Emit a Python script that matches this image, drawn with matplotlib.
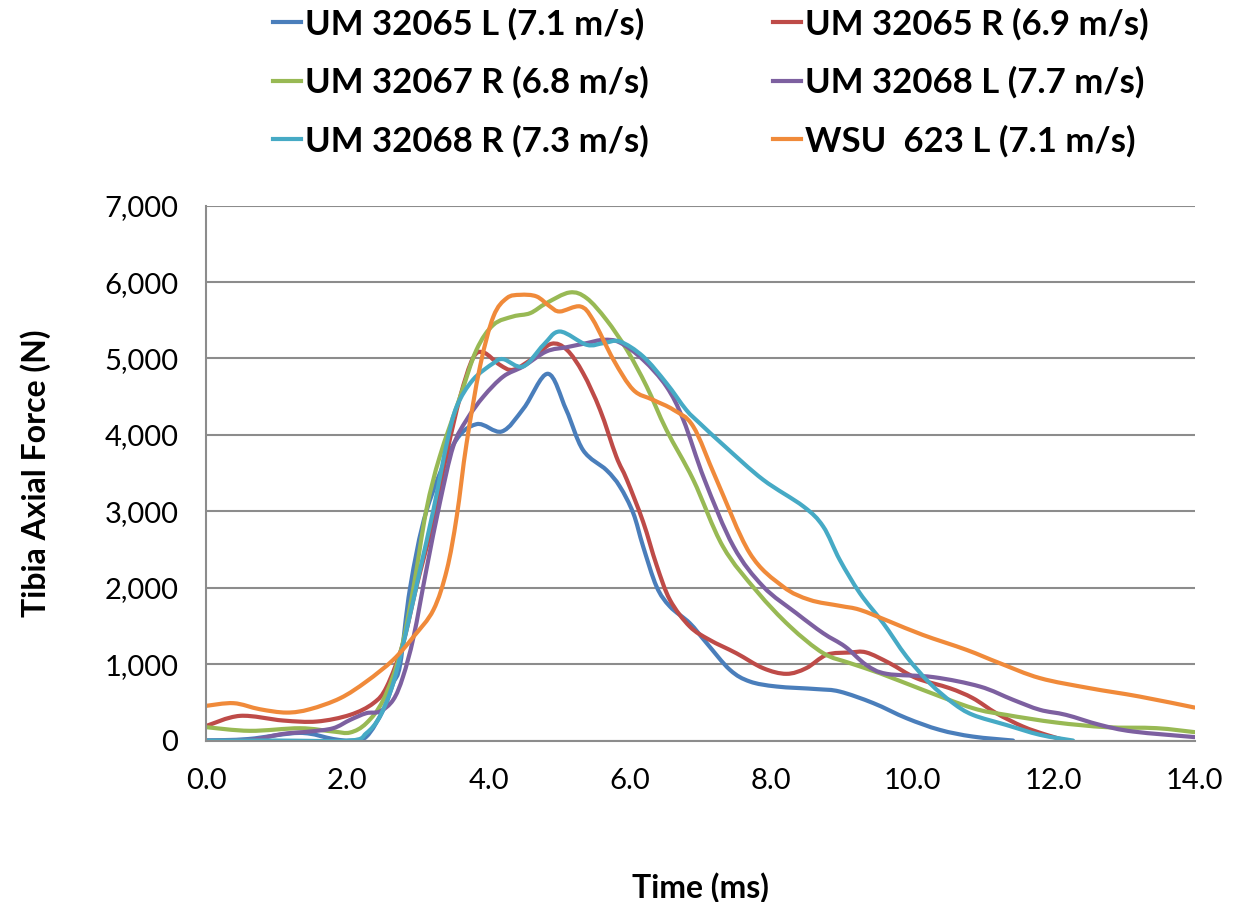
import matplotlib
matplotlib.use('Agg')
import matplotlib.pyplot as plt
from matplotlib.path import Path
from matplotlib.patches import PathPatch
from matplotlib.lines import Line2D
from matplotlib.ticker import FuncFormatter

plt.rcParams['font.family'] = ['Lato', 'DejaVu Sans']

# Time (ms) / tibia axial force (N)
t_um65l = [0, 0.6, 1.33, 1.8, 2.04, 2.27, 2.51, 2.65, 2.75, 2.89, 3.12, 3.5, 3.83, 4.19, 4.5, 4.84,
           5.1, 5.34, 5.67, 5.86, 6.05, 6.19, 6.38, 6.57, 6.85, 7.09, 7.42, 7.7, 8.08, 8.65, 8.975,
           9.45, 9.92, 10.39, 10.86, 11.43]
f_um65l = [0, 20, 100, 20, 0, 50, 400, 750, 1000, 2000, 3000, 3870, 4140, 4045, 4350, 4800,
           4330, 3800, 3540, 3325, 2977, 2540, 2016, 1754, 1537, 1275, 925, 773, 707, 673, 641,
           490, 293, 140, 52, 0]

t_um65r = [0, 0.48, 1.09, 1.57, 2.04, 2.37, 2.56, 2.79, 2.98, 3.22, 3.41, 3.6, 3.78, 3.93, 4.16,
           4.35, 4.63, 4.89, 5.11, 5.34, 5.58, 5.81, 5.96, 6.19, 6.38, 6.57, 6.85, 7.13, 7.51, 7.89,
           8.22, 8.5, 8.79, 9.12, 9.35, 9.68, 10.06, 10.53, 10.86, 11.19, 11.57, 11.9, 12.18]
f_um65r = [190, 323, 262, 249, 336, 489, 707, 1274, 2016, 2888, 3761, 4503, 5004, 5079, 4917,
           4852, 5004, 5192, 5113, 4808, 4328, 3717, 3413, 2862, 2298, 1841, 1493, 1318, 1143, 947,
           873, 947, 1122, 1152, 1153, 1013, 817, 686, 555, 359, 183, 75, 0]

t_um67r = [0, 0.62, 1.33, 1.8, 2.04, 2.27, 2.51, 2.75, 2.94, 3.12, 3.31, 3.6, 3.83, 4.07, 4.35,
           4.59, 4.82, 5.15, 5.39, 5.67, 5.96, 6.24, 6.52, 6.9, 7.32, 7.8, 8.27, 8.74, 9.12, 9.54,
           10.15, 10.86, 11.33, 12.04, 12.75, 13.46, 14.0]
f_um67r = [175, 127, 161, 118, 105, 227, 532, 1143, 2016, 3019, 3717, 4503, 5113, 5441, 5550,
           5593, 5724, 5864, 5790, 5506, 5113, 4634, 4066, 3413, 2540, 1954, 1493, 1144, 1013, 882,
           664, 424, 336, 236, 175, 162, 110]

t_um68l = [0, 0.62, 1.09, 1.47, 1.8, 2.04, 2.27, 2.46, 2.65, 2.79, 2.94, 3.12, 3.31, 3.5, 3.69,
           3.93, 4.21, 4.49, 4.82, 5.11, 5.39, 5.63, 5.86, 6.19, 6.52, 6.76, 7.06, 7.47, 7.89, 8.36,
           8.74, 9.05, 9.35, 9.64, 10.3, 10.96, 11.43, 11.81, 12.18, 12.66, 13.13, 14.0]
f_um68l = [0, 9, 87, 118, 161, 270, 358, 380, 532, 838, 1361, 2234, 3106, 3848, 4197,
           4503, 4764, 4895, 5092, 5148, 5201, 5244, 5209, 4983, 4634, 4197, 3413, 2540, 2016, 1667,
           1405, 1230, 990, 873, 830, 707, 533, 402, 336, 205, 118, 45]

t_um68r = [0, 1.0, 2.04, 2.27, 2.46, 2.65, 2.84, 3.03, 3.22, 3.41, 3.55, 3.78, 4.07, 4.21, 4.49,
           4.78, 5.01, 5.39, 5.63, 5.86, 6.19, 6.52, 6.8, 6.99, 7.35, 7.89, 8.46, 8.74, 8.975,
           9.26, 9.59, 9.92, 10.25, 10.58, 10.86, 11.33, 11.81, 12.28]
f_um68r = [0, 0, 0, 96, 314, 750, 1449, 2234, 3019, 3892, 4372, 4721, 4939, 4991, 4895,
           5179, 5353, 5179, 5201, 5222, 5026, 4677, 4328, 4154, 3848, 3413, 3064, 2802, 2365,
           1929, 1537, 1100, 751, 490, 336, 205, 75, 0]

t_wsu623l = [0, 0.39, 0.76, 1.14, 1.47, 1.9, 2.27, 2.65, 2.94, 3.22, 3.41, 3.55, 3.69, 3.88, 4.07,
             4.26, 4.45, 4.68, 4.87, 5.01, 5.3, 5.48, 5.77, 6.05, 6.33, 6.62, 6.9, 7.23, 7.7, 8.17,
             8.55, 8.975, 9.26, 9.68, 10.15, 10.77, 11.24, 11.81, 12.51, 13.22, 14.0]
f_wsu623l = [454, 489, 410, 366, 410, 554, 772, 1056, 1361, 1710, 2234, 2932, 3892, 4895, 5550,
             5790, 5833, 5812, 5681, 5615, 5681, 5506, 4983, 4590, 4459, 4328, 4110, 3413, 2453, 2016,
             1841, 1763, 1711, 1558, 1383, 1187, 1013, 817, 686, 576, 432]

labels = ['UM 32065 L (7.1 m/s)', 'UM 32065 R (6.9 m/s)', 'UM 32067 R (6.8 m/s)',
          'UM 32068 L (7.7 m/s)', 'UM 32068 R (7.3 m/s)', 'WSU  623 L (7.1 m/s)']
colors = ['#4A7EBB', '#BE4B48', '#98B954', '#7D60A0', '#46AAC5', '#F08A3A']
series = [(t_um65l, f_um65l), (t_um65r, f_um65r), (t_um67r, f_um67r),
          (t_um68l, f_um68l), (t_um68r, f_um68r), (t_wsu623l, f_wsu623l)]


def smooth_path(x, y):
    # Excel style smoothed line: cubic bezier segments through the points
    verts = [(x[0], y[0])]
    codes = [Path.MOVETO]
    n = len(x)
    for i in range(n - 1):
        x0, y0 = (x[i - 1], y[i - 1]) if i > 0 else (x[i], y[i])
        x3, y3 = (x[i + 2], y[i + 2]) if i + 2 < n else (x[i + 1], y[i + 1])
        c1 = (x[i] + (x[i + 1] - x0) / 6.0, y[i] + (y[i + 1] - y0) / 6.0)
        c2 = (x[i + 1] - (x3 - x[i]) / 6.0, y[i + 1] - (y3 - y[i]) / 6.0)
        verts += [c1, c2, (x[i + 1], y[i + 1])]
        codes += [Path.CURVE4] * 3
    return Path(verts, codes)


fig = plt.figure(figsize=(12.34, 9.02), dpi=100)
ax = fig.add_axes([0.167, 0.179, 0.801, 0.593])

handles = []
for (t, f), lab, c in zip(series, labels, colors):
    ax.add_patch(PathPatch(smooth_path(t, f), fill=False, edgecolor=c, lw=3,
                           capstyle='round', joinstyle='round'))
    handles.append(Line2D([], [], color=c, lw=3))

ax.set_xlim(0, 14)
ax.set_ylim(0, 7000)
ax.set_xticks(range(0, 15, 2))
ax.set_yticks(range(0, 7001, 1000))
ax.xaxis.set_major_formatter(FuncFormatter(lambda v, p: '%.1f' % v))
ax.yaxis.set_major_formatter(FuncFormatter(lambda v, p: '{:,.0f}'.format(v)))
ax.tick_params(axis='both', length=0, labelsize=21)
ax.tick_params(axis='y', pad=20)
ax.tick_params(axis='x', pad=20)
ax.grid(axis='y', color='#8c8c8c', lw=1.5)
ax.set_axisbelow(True)
for s in ['top', 'right']:
    ax.spines[s].set_visible(False)
for s in ['left', 'bottom']:
    ax.spines[s].set_color('#8c8c8c')
    ax.spines[s].set_linewidth(1.5)

ax.set_xlabel('Time (ms)', fontsize=23, fontweight='bold', labelpad=56)
ax.set_ylabel('Tibia Axial Force (N)', fontsize=23, fontweight='bold', labelpad=38)

# legend is filled row by row in the original
order = [0, 2, 4, 1, 3, 5]
fig.legend([handles[i] for i in order], [labels[i] for i in order], ncol=2,
           loc='upper center', bbox_to_anchor=(0.576, 1.026), frameon=False,
           prop={'size': 25, 'weight': 'bold'}, handlelength=0.8, handletextpad=0.1,
           columnspacing=3.6, labelspacing=0.75)

fig.savefig('out.png', dpi=100)
